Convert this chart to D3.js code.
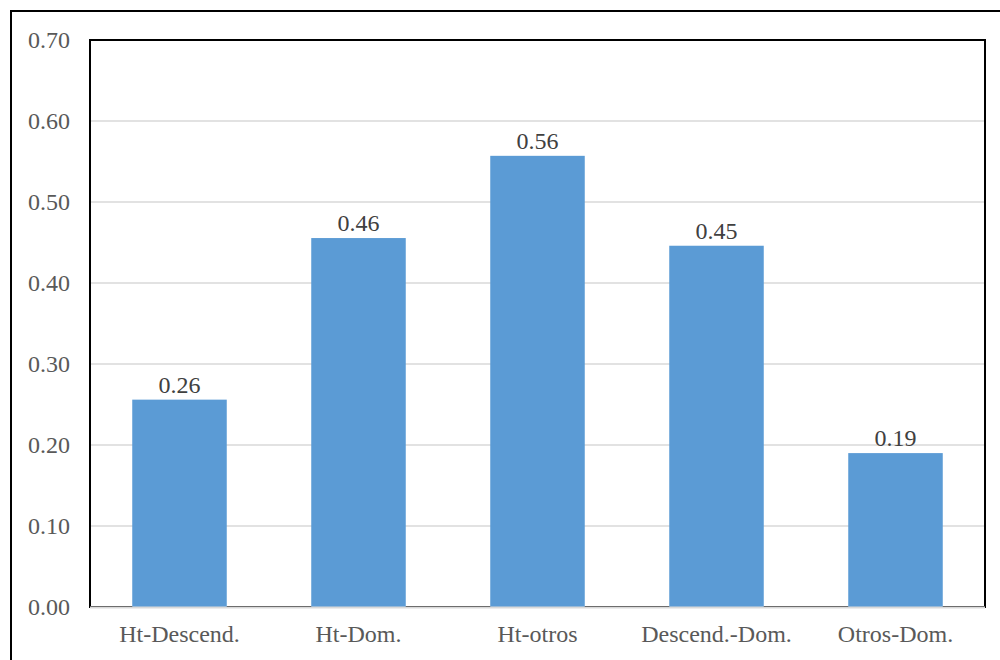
<!DOCTYPE html>
<html>
<head>
<meta charset="utf-8">
<script src="https://cdn.jsdelivr.net/npm/d3@7"></script>
<style>
  html, body { margin: 0; padding: 0; background: #fff; }
  svg { display: block; }
  text { font-family: "Liberation Serif", "Times New Roman", serif; }
</style>
</head>
<body>
<svg id="chart" width="1000" height="660"></svg>
<script>
// Pair categories and their values
const categories = ["Ht-Descend.", "Ht-Dom.", "Ht-otros", "Descend.-Dom.", "Otros-Dom."];
const values = [0.256, 0.4555, 0.557, 0.446, 0.19];
const yTicks = [0, 0.1, 0.2, 0.3, 0.4, 0.5, 0.6, 0.7];

const svg = d3.select("#chart");
const plot = { left: 90, top: 40, right: 985, bottom: 607 };

// Outer frame
svg.append("rect")
  .attr("x", 11).attr("y", 11)
  .attr("width", 1000).attr("height", 700)
  .attr("fill", "#fff").attr("stroke", "#000").attr("stroke-width", 2);

const x = d3.scaleBand()
  .domain(categories)
  .range([plot.left, plot.right])
  .paddingInner(0.472)
  .paddingOuter(0.236);

const y = d3.scaleLinear()
  .domain([0, 0.7])
  .range([plot.bottom, plot.top]);

// Gridlines
svg.append("g")
  .selectAll("line")
  .data(yTicks.filter(t => t > 0 && t < 0.7))
  .join("line")
  .attr("x1", plot.left).attr("x2", plot.right)
  .attr("y1", d => y(d)).attr("y2", d => y(d))
  .attr("stroke", "#d9d9d9").attr("stroke-width", 1.5);

// Plot area border
svg.append("rect")
  .attr("x", plot.left).attr("y", plot.top)
  .attr("width", plot.right - plot.left).attr("height", plot.bottom - plot.top)
  .attr("fill", "none").attr("stroke", "#000").attr("stroke-width", 2);

// Bars
svg.append("g")
  .selectAll("rect")
  .data(values)
  .join("rect")
  .attr("x", (d, i) => x(categories[i]))
  .attr("width", x.bandwidth())
  .attr("y", d => y(d))
  .attr("height", d => y(0) - y(d))
  .attr("fill", "#5b9bd5");

// Category axis line
svg.append("line")
  .attr("x1", plot.left).attr("x2", plot.right)
  .attr("y1", plot.bottom + 0.5).attr("y2", plot.bottom + 0.5)
  .attr("stroke", "#d9d9d9").attr("stroke-width", 2);

// Y axis labels
const yAxis = d3.axisLeft(y)
  .tickValues(yTicks)
  .tickFormat(d3.format(".2f"))
  .tickSize(0)
  .tickPadding(20);
const gy = svg.append("g")
  .attr("transform", `translate(${plot.left},0)`)
  .call(yAxis)
  .attr("font-family", "Liberation Serif, serif")
  .attr("font-size", 24);
gy.select(".domain").remove();
gy.selectAll("text").attr("fill", "#595959");

// X axis labels
const xAxis = d3.axisBottom(x).tickSize(0).tickPadding(18);
const gx = svg.append("g")
  .attr("transform", `translate(0,${plot.bottom})`)
  .call(xAxis)
  .attr("font-family", "Liberation Serif, serif")
  .attr("font-size", 24);
gx.select(".domain").remove();
gx.selectAll("text").attr("fill", "#595959");

// Value labels
svg.append("g")
  .attr("font-family", "Liberation Serif, serif")
  .attr("font-size", 24)
  .selectAll("text")
  .data(values)
  .join("text")
  .attr("x", (d, i) => x(categories[i]) + x.bandwidth() / 2)
  .attr("y", d => y(d) - 7)
  .attr("text-anchor", "middle")
  .attr("fill", "#404040")
  .text(d => d3.format(".2f")(d));
</script>
</body>
</html>
